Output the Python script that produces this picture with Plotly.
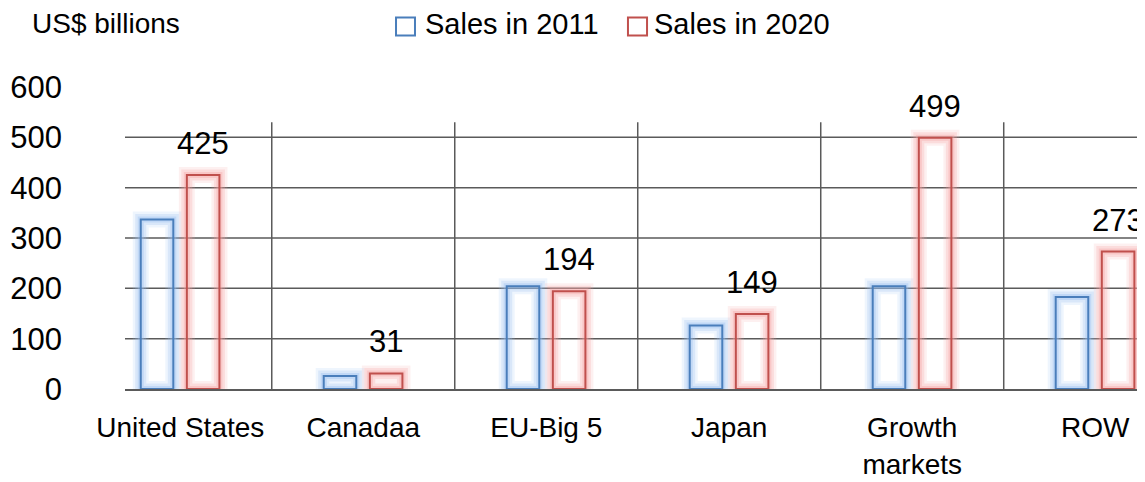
import plotly.graph_objects as go

categories = ["United States", "Canadaa", "EU-Big 5", "Japan", "Growth<br>markets", "ROW"]
sales_2011 = [337, 26, 204, 126, 204, 183]
sales_2020 = [425, 31, 194, 149, 499, 273]
y_ticks = [0, 100, 200, 300, 400, 500, 600]
series_names = ["Sales in 2011", "Sales in 2020"]

FONT = "Liberation Sans, Arial, sans-serif"
BLUE = "#4a7ebb"
RED = "#c0504d"
BLUE_GLOW = "rgba(150,190,240,{a})"
RED_GLOW = "rgba(245,160,160,{a})"
GRID = "#5a5a5a"

x_idx = list(range(len(categories)))
BAR_W = 0.178
OFF_2011 = -0.216
OFF_2020 = 0.036

fig = go.Figure()

glow_layers = [(16, 0.16), (11, 0.24), (6, 0.35)]
for vals, off, gcol, col in [(sales_2011, OFF_2011, BLUE_GLOW, BLUE), (sales_2020, OFF_2020, RED_GLOW, RED)]:
    for lw, a in glow_layers:
        fig.add_trace(go.Bar(
            x=x_idx, y=vals, width=BAR_W, offset=off,
            marker=dict(color="rgba(0,0,0,0)", line=dict(color=gcol.format(a=a), width=lw)),
            showlegend=False, hoverinfo="skip"))
for vals, off, col, name in [(sales_2011, OFF_2011, BLUE, series_names[0]), (sales_2020, OFF_2020, RED, series_names[1])]:
    fig.add_trace(go.Bar(
        x=x_idx, y=vals, width=BAR_W, offset=off, name=name,
        marker=dict(color="rgba(0,0,0,0)", line=dict(color=col, width=2)),
        showlegend=False))

# data labels for 2020
for i, v in enumerate(sales_2020):
    fig.add_annotation(x=i + OFF_2020 + BAR_W / 2, y=v, text=str(v), showarrow=False,
                       yanchor="bottom", yshift=12, font=dict(size=31, color="black", family=FONT))

shapes = []
for t in y_ticks[1:-1]:
    shapes.append(dict(type="line", xref="paper", yref="y", x0=0, x1=1, y0=t, y1=t,
                       line=dict(color=GRID, width=1.5), layer="below"))
for i in range(len(categories) - 1):
    shapes.append(dict(type="line", xref="x", yref="y", x0=i + 0.5, x1=i + 0.5, y0=0, y1=530,
                       line=dict(color=GRID, width=1.5), layer="below"))
shapes.append(dict(type="rect", xref="paper", yref="paper", x0=0.2657, x1=0.2843, y0=1.1706, y1=1.2302,
                   line=dict(color=BLUE, width=2), fillcolor="white"))
shapes.append(dict(type="rect", xref="paper", yref="paper", x0=0.4931, x1=0.5118, y0=1.1706, y1=1.2302,
                   line=dict(color=RED, width=2), fillcolor="white"))
fig.update_layout(shapes=shapes)

fig.add_annotation(xref="paper", yref="paper", x=0.2922, y=1.207, text=series_names[0], showarrow=False,
                   xanchor="left", yanchor="middle", font=dict(size=29, color="black", family=FONT))
fig.add_annotation(xref="paper", yref="paper", x=0.5167, y=1.207, text=series_names[1], showarrow=False,
                   xanchor="left", yanchor="middle", font=dict(size=29, color="black", family=FONT))
fig.add_annotation(xref="paper", yref="paper", x=-0.0932, y=1.2103, text="US$ billions", showarrow=False,
                   xanchor="left", yanchor="middle", font=dict(size=28, color="black", family=FONT))

# page body has an 8px margin: size figure to fit the window exactly
fig.update_layout(
    width=1137, height=474,
    margin=dict(l=117, r=0, t=79, b=93, pad=0, autoexpand=False),
    paper_bgcolor="white", plot_bgcolor="white",
    barmode="overlay",
    font=dict(family=FONT, color="black"),
    xaxis=dict(range=[-0.302, 5.272], tickvals=x_idx, ticktext=categories, showgrid=False,
               zeroline=False, showline=True, linecolor=GRID, linewidth=1.5, ticks="", automargin=False,
               tickfont=dict(size=28, family=FONT, color="black"), ticklabelstandoff=13),
    yaxis=dict(range=[0, 600], tickvals=y_ticks, showgrid=False, zeroline=False, showline=False,
               ticks="", automargin=False,
               tickfont=dict(size=31, family=FONT, color="black"), ticklabelstandoff=62),
)

fig.write_html("out.html")
